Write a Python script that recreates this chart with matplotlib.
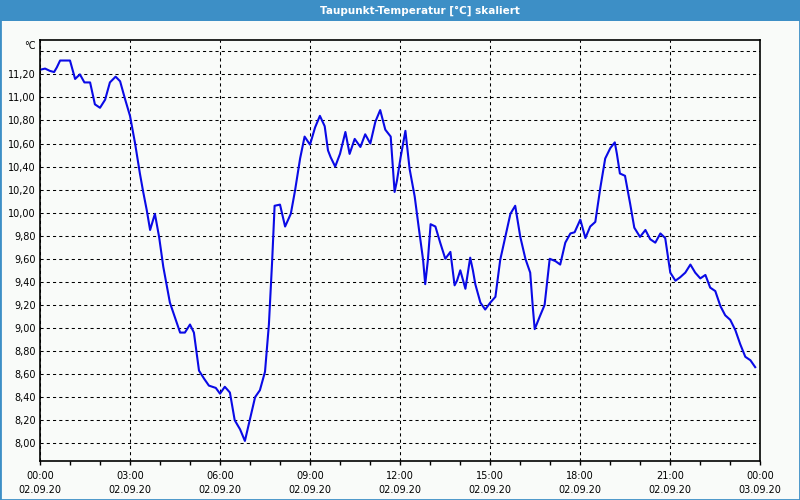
import matplotlib
matplotlib.use('Agg')
import matplotlib.pyplot as plt
from matplotlib.patches import Rectangle
from matplotlib.ticker import MultipleLocator, FixedLocator

# Taupunkt values (hours since 02.09.20 00:00)
hours = [0.0, 0.17, 0.33, 0.47, 0.56, 0.67, 1.0, 1.17, 1.33, 1.48, 1.67, 1.83,
         2.0, 2.17, 2.33, 2.52, 2.67, 2.83, 3.0, 3.17, 3.33, 3.44, 3.56, 3.67,
         3.83, 3.97, 4.11, 4.33, 4.5, 4.67, 4.83, 5.0, 5.13, 5.3, 5.47, 5.63,
         5.86, 6.0, 6.16, 6.33, 6.49, 6.67, 6.83, 7.0, 7.17, 7.33, 7.5, 7.63,
         7.74, 7.82, 8.0, 8.17, 8.36, 8.5, 8.67, 8.82, 9.0, 9.17, 9.33, 9.49,
         9.6, 9.69, 9.84, 10.0, 10.18, 10.32, 10.49, 10.68, 10.84, 11.01, 11.18,
         11.34, 11.51, 11.69, 11.82, 11.9, 12.02, 12.18, 12.32, 12.49, 12.62,
         12.77, 12.84, 12.93, 13.02, 13.18, 13.34, 13.51, 13.68, 13.82, 13.9,
         14.01, 14.18, 14.34, 14.43, 14.51, 14.68, 14.84, 15.01, 15.18, 15.34,
         15.51, 15.68, 15.84, 16.01, 16.18, 16.34, 16.43, 16.49, 16.66, 16.82,
         16.99, 17.18, 17.34, 17.51, 17.68, 17.82, 18.01, 18.18, 18.34, 18.51,
         18.68, 18.84, 19.01, 19.16, 19.23, 19.33, 19.5, 19.67, 19.81, 20.0,
         20.18, 20.34, 20.51, 20.68, 20.84, 21.01, 21.18, 21.34, 21.51, 21.68,
         21.84, 22.01, 22.18, 22.34, 22.51, 22.68, 22.84, 23.01, 23.18, 23.34,
         23.51, 23.68, 23.84]
taupunkt = [11.24, 11.25, 11.23, 11.22, 11.26, 11.32, 11.32, 11.16, 11.20, 11.13,
            11.13, 10.94, 10.91, 10.98, 11.13, 11.18, 11.14, 10.99, 10.84, 10.60,
            10.34, 10.18, 10.02, 9.85, 9.99, 9.79, 9.53, 9.22, 9.09, 8.96, 8.96,
            9.03, 8.96, 8.63, 8.56, 8.50, 8.48, 8.43, 8.49, 8.44, 8.20, 8.12,
            8.02, 8.21, 8.40, 8.46, 8.62, 9.03, 9.59, 10.06, 10.07, 9.88, 9.99,
            10.19, 10.47, 10.66, 10.59, 10.74, 10.84, 10.75, 10.54, 10.48, 10.40,
            10.51, 10.70, 10.51, 10.64, 10.57, 10.68, 10.60, 10.79, 10.89, 10.72,
            10.66, 10.18, 10.28, 10.48, 10.71, 10.38, 10.14, 9.88, 9.59, 9.38,
            9.59, 9.90, 9.88, 9.74, 9.60, 9.66, 9.37, 9.41, 9.50, 9.34, 9.61,
            9.50, 9.38, 9.22, 9.16, 9.22, 9.27, 9.59, 9.79, 9.99, 10.06, 9.79,
            9.60, 9.48, 9.17, 8.99, 9.10, 9.20, 9.60, 9.58, 9.55, 9.74, 9.82,
            9.83, 9.94, 9.78, 9.88, 9.92, 10.22, 10.47, 10.56, 10.61, 10.51,
            10.34, 10.32, 10.08, 9.87, 9.79, 9.85, 9.77, 9.74, 9.82, 9.78, 9.48,
            9.41, 9.44, 9.48, 9.55, 9.48, 9.43, 9.46, 9.35, 9.32, 9.19, 9.11,
            9.07, 8.98, 8.86, 8.75, 8.72, 8.66]

x_ticks = [0, 3, 6, 9, 12, 15, 18, 21, 24]
x_labels = ['00:00\n02.09.20', '03:00\n02.09.20', '06:00\n02.09.20',
            '09:00\n02.09.20', '12:00\n02.09.20', '15:00\n02.09.20',
            '18:00\n02.09.20', '21:00\n02.09.20', '00:00\n03.09.20']
y_ticks = [8.0, 8.2, 8.4, 8.6, 8.8, 9.0, 9.2, 9.4, 9.6, 9.8, 10.0,
           10.2, 10.4, 10.6, 10.8, 11.0, 11.2, 11.4]

bg = '#f9fbf9'
blue_bar = '#3d8fc6'

plt.rcParams['font.family'] = 'DejaVu Sans'
fig = plt.figure(figsize=(8, 5), dpi=100, facecolor=bg)
ax = fig.add_axes([0.05, 0.078, 0.9, 0.842], facecolor=bg)

ax.plot(hours, taupunkt, color='#0a0ae6', linewidth=1.5)

ax.set_xlim(0, 24)
ax.set_ylim(7.846, 11.498)

ax.set_xticks(x_ticks)
ax.set_xticklabels(x_labels, fontsize=7, linespacing=1.5)
ax.xaxis.set_minor_locator(MultipleLocator(1))
ax.tick_params(axis='x', which='both', direction='out', length=3, width=1,
               pad=4.5, colors='black')

ax.yaxis.set_major_locator(FixedLocator(y_ticks))
ax.set_yticklabels([('%.2f' % v).replace('.', ',') if v < 11.3 else '' for v in y_ticks],
                   fontsize=7)
ax.tick_params(axis='y', length=0, pad=3)

ax.grid(True, which='major', color='black', linestyle=(0, (3, 3)), linewidth=0.75)
for s in ax.spines.values():
    s.set_linewidth(1.2)
    s.set_color('black')

fig.text(36 / 800, 1 - 46 / 500, '°C', fontsize=7, ha='right', va='center')

# window style title bar and frame
fig.patches.append(Rectangle((0, 1 - 21 / 500), 1, 21 / 500, transform=fig.transFigure,
                             facecolor=blue_bar, edgecolor='none', zorder=0))
fig.patches.append(Rectangle((0, 0), 1, 1, transform=fig.transFigure, fill=False,
                             edgecolor=blue_bar, linewidth=2, zorder=1))
fig.text(420 / 800, 1 - 10.5 / 500, 'Taupunkt-Temperatur [°C] skaliert', color='white',
         fontsize=7.5, fontweight='bold', ha='center', va='center')

fig.savefig('out.png', dpi=100, facecolor=bg)
